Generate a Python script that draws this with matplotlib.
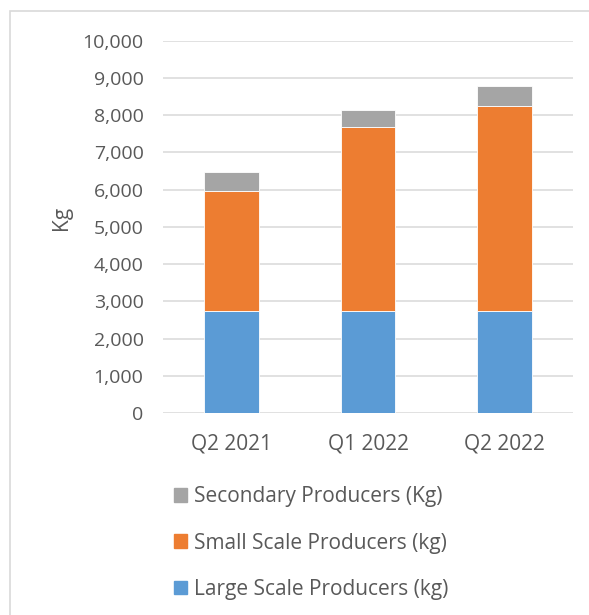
import numpy as np
import matplotlib
matplotlib.use("Agg")
import matplotlib.pyplot as plt
from matplotlib.patches import Rectangle, Patch

quarters = ["Q2 2021", "Q1 2022", "Q2 2022"]
large_kg = [2750, 2750, 2750]
small_kg = [3205, 4920, 5505]
secondary_kg = [515, 480, 535]

series_names = ["Large Scale Producers (kg)", "Small Scale Producers (kg)", "Secondary Producers (Kg)"]
series_colors = ["#5b9bd5", "#ed7d31", "#a5a5a5"]
yticks = np.arange(0, 10001, 1000)

plt.rcParams["font.family"] = ["Open Sans", "DejaVu Sans"]
txt = "#595959"

fig = plt.figure(figsize=(5.89, 6.15), dpi=100, facecolor="white")
W, H = 589, 615
# outer chart frame
fig.patches.append(Rectangle((10 / W, -0.1), 1.2, 1 - 11 / H + 0.1, transform=fig.transFigure,
                             fill=False, edgecolor="#d9d9d9", lw=1.2))

ax = fig.add_axes([163 / W, 1 - 413 / H, 410 / W, (413 - 40.7) / H])
x = np.arange(len(quarters))
bottom = np.zeros(len(quarters))
for vals, name, col in zip([large_kg, small_kg, secondary_kg], series_names, series_colors):
    ax.bar(x, vals, 0.4, bottom=bottom, color=col, edgecolor="white", lw=0.6, zorder=3, label=name)
    bottom += np.array(vals)

ax.set_xlim(-0.5, 2.5)
ax.set_ylim(0, 10000)
ax.set_yticks(yticks)
ax.set_yticklabels([f"{v:,}" for v in yticks])
ax.set_xticks(x)
ax.set_xticklabels(quarters)
ax.tick_params(axis="both", length=0, colors=txt)
ax.tick_params(axis="y", pad=14, labelsize=14)
ax.tick_params(axis="x", pad=15, labelsize=15)
ax.grid(axis="y", color="#d9d9d9", lw=1.1, zorder=0)
for sp in ax.spines.values():
    sp.set_visible(False)

fig.text(62 / W, 1 - 218 / H, "Kg", rotation=90, ha="center", va="center", color=txt, fontsize=15)

handles = [Patch(color=c) for c in series_colors][::-1]
fig.legend(handles, series_names[::-1], loc="center left", bbox_to_anchor=(155 / W, 1 - 543 / H),
           frameon=False, fontsize=15, labelcolor=txt, handlelength=0.63, handleheight=0.63,
           handletextpad=0.34, labelspacing=1.22)

fig.savefig("out.png", dpi=100)
